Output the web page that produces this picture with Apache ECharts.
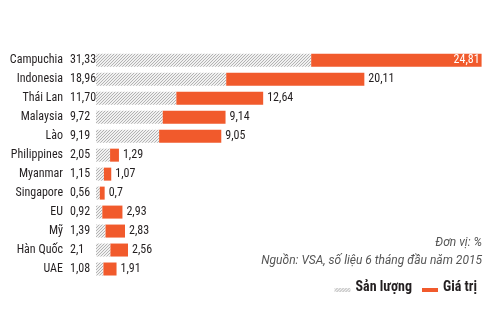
<!DOCTYPE html>
<html><head><meta charset="utf-8">
<script src="https://cdn.jsdelivr.net/npm/echarts@6/dist/echarts.min.js"></script>
<style>html,body{margin:0;padding:0;background:#fff}#c{width:500px;height:330px}</style>
</head><body><div id="c"></div>
<script>
var categories = ['Campuchia','Indonesia','Thái Lan','Malaysia','Lào','Philippines','Myanmar','Singapore','EU','Mỹ','Hàn Quốc','UAE'];
var volumeText = ['31,33','18,96','11,70','9,72','9,19','2,05','1,15','0,56','0,92','1,39','2,1','1,08'];
var valueText  = ['24,81','20,11','12,64','9,14','9,05','1,29','1,07','0,7','2,93','2,83','2,56','1,91'];
var seriesNames = ['Sản lượng','Giá trị'];
var unitNote = 'Đơn vị: %';
var sourceNote = 'Nguồn: VSA, số liệu 6 tháng đầu năm 2015';

function num(s){ return parseFloat(s.replace(',', '.')); }
var volume = volumeText.map(num);
var value = valueText.map(num);

var FONT = "'Roboto Condensed','Roboto',sans-serif";
var NOTE_FONT = "Roboto,sans-serif";
var ORANGE = '#f15a2c';
var INK = '#231f20';

var pc = document.createElement('canvas');
pc.width = 3; pc.height = 3;
var g = pc.getContext('2d');
g.fillStyle = '#f1f1f1'; g.fillRect(0,0,3,3);
g.fillStyle = '#b3b3b3';
g.fillRect(0,2,1,1); g.fillRect(1,1,1,1); g.fillRect(2,0,1,1);
var hatch = {image: pc, repeat: 'repeat'};

var iconPath = 'path://M0,0L0.01,0L0.01,0.01L0,0.01ZM0,6L16,6L16,10L0,10Z';

var chart = echarts.init(document.getElementById('c'));
chart.setOption({
  animation: false,
  textStyle: {fontFamily: FONT},
  grid: {left: 96, right: 18, top: 50.8, bottom: 51.5},
  xAxis: {type: 'value', min: 0, max: 56.2, show: false},
  yAxis: {
    type: 'category', inverse: true, data: categories,
    axisLine: {show: false}, axisTick: {show: false}, splitLine: {show: false},
    axisLabel: {margin: 33, fontSize: 12, color: INK, fontFamily: FONT}
  },
  legend: {
    right: 18, top: 275, itemWidth: 16, itemHeight: 10, itemGap: 10,
    data: [{name: seriesNames[0], icon: iconPath}, {name: seriesNames[1], icon: iconPath}],
    textStyle: {fontSize: 14, fontWeight: 'bold', color: INK, fontFamily: FONT}
  },
  graphic: [
    {type: 'text', right: 18, top: 237, style: {text: unitNote, font: 'italic 12px ' + NOTE_FONT, fill: '#555'}},
    {type: 'text', right: 18, top: 255, style: {text: sourceNote, font: 'italic 12px ' + NOTE_FONT, fill: '#555'}}
  ],
  series: [
    {name: seriesNames[0], type: 'bar', stack: 's', barWidth: 13, data: volume,
     itemStyle: {color: hatch},
     label: {show: true, position: [-26, '50%'], align: 'left', verticalAlign: 'middle',
       fontSize: 12, color: INK, fontFamily: FONT,
       formatter: function (p) { return volumeText[p.dataIndex]; }}},
    {name: seriesNames[1], type: 'bar', stack: 's', barWidth: 13,
     itemStyle: {color: ORANGE},
     data: value.map(function (v, i) {
       var d = {value: v};
       if (i === 0) d.label = {position: 'insideRight', color: '#fff', distance: 2};
       return d;
     }),
     label: {show: true, position: 'right', distance: 4, fontSize: 12, color: INK, fontFamily: FONT,
       formatter: function (p) { return valueText[p.dataIndex]; }}}
  ]
});
</script></body></html>
